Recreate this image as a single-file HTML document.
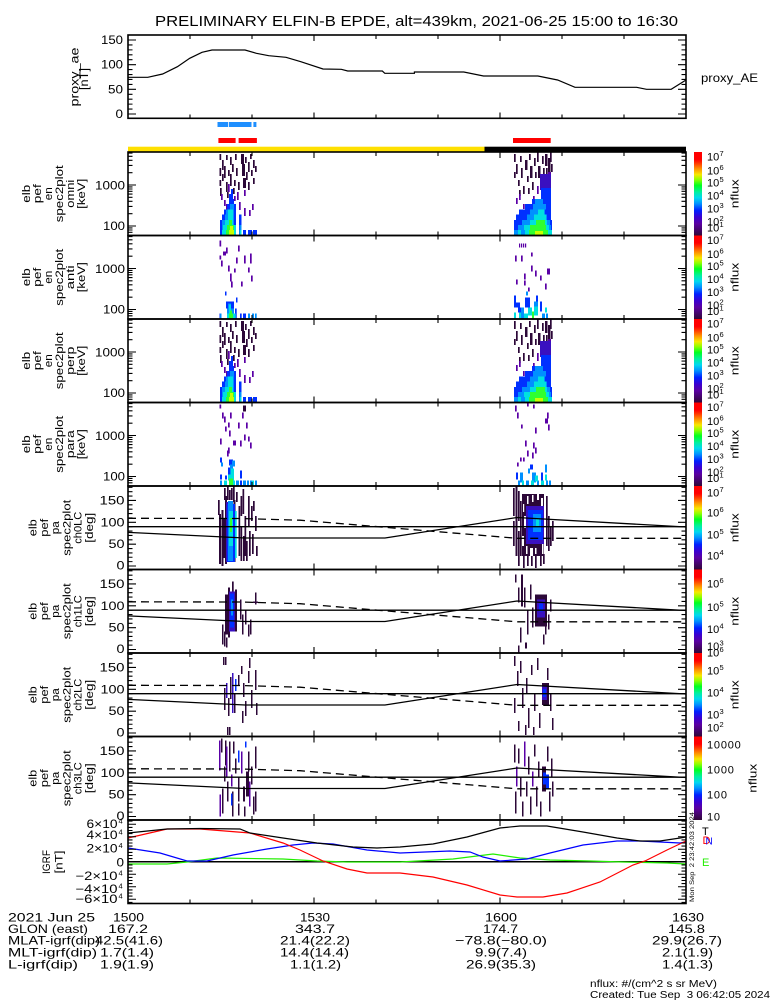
<!DOCTYPE html>
<html><head><meta charset="utf-8"><title>ELFIN-B EPDE</title>
<style>
html,body{margin:0;padding:0;background:#fff;width:775px;height:1000px;overflow:hidden}
svg{display:block}
text{font-family:"Liberation Sans",Arial,sans-serif;fill:#000}
</style></head><body>
<svg width="775" height="1000" viewBox="0 0 775 1000" xmlns="http://www.w3.org/2000/svg">
<defs>
<linearGradient id="cb" x1="0" y1="0" x2="0" y2="1">
<stop offset="0" stop-color="#ff0000"/><stop offset="0.09" stop-color="#ff0000"/><stop offset="0.13" stop-color="#ff3000"/><stop offset="0.2" stop-color="#ff9000"/><stop offset="0.27" stop-color="#f8e800"/><stop offset="0.33" stop-color="#90ff00"/><stop offset="0.4" stop-color="#00ff20"/><stop offset="0.48" stop-color="#00f0a0"/><stop offset="0.55" stop-color="#00d8f0"/><stop offset="0.62" stop-color="#0090ff"/><stop offset="0.7" stop-color="#0020ff"/><stop offset="0.78" stop-color="#3a00d0"/><stop offset="0.86" stop-color="#5a00a0"/><stop offset="1" stop-color="#300838"/>
</linearGradient>
<path id="xt" fill="none" stroke="#000" stroke-width="1.1" d="M190,0v4M252,0v4M314,0v6M376,0v4M438,0v4M500,0v6M562,0v4M624,0v4M190,83.5v-4M252,83.5v-4M314,83.5v-6M376,83.5v-4M438,83.5v-4M500,83.5v-6M562,83.5v-4M624,83.5v-4"/>
<path id="et" fill="none" stroke="#000" stroke-width="1.1" d="M128,74h8M128,33h8M128,80.3h4.5M128,78h4.5M128,75.9h4.5M128,61.7h4.5M128,54.4h4.5M128,49.3h4.5M128,45.3h4.5M128,42.1h4.5M128,39.3h4.5M128,37h4.5M128,34.9h4.5M128,20.7h4.5M128,13.4h4.5M128,8.3h4.5M128,4.3h4.5M128,1.1h4.5M686,74h-8M686,33h-8M686,80.3h-4.5M686,78h-4.5M686,75.9h-4.5M686,61.7h-4.5M686,54.4h-4.5M686,49.3h-4.5M686,45.3h-4.5M686,42.1h-4.5M686,39.3h-4.5M686,37h-4.5M686,34.9h-4.5M686,20.7h-4.5M686,13.4h-4.5M686,8.3h-4.5M686,4.3h-4.5M686,1.1h-4.5"/>
<path id="pt" fill="none" stroke="#000" stroke-width="1.1" d="M128,80h8M128,58.15h8M128,36.3h8M128,14.45h8M128,75.63h4.5M128,71.26h4.5M128,66.89h4.5M128,62.52h4.5M128,53.78h4.5M128,49.41h4.5M128,45.04h4.5M128,40.67h4.5M128,31.93h4.5M128,27.56h4.5M128,23.19h4.5M128,18.82h4.5M128,10.08h4.5M128,5.71h4.5M128,1.34h4.5M686,80h-8M686,58.15h-8M686,36.3h-8M686,14.45h-8M686,75.63h-4.5M686,71.26h-4.5M686,66.89h-4.5M686,62.52h-4.5M686,53.78h-4.5M686,49.41h-4.5M686,45.04h-4.5M686,40.67h-4.5M686,31.93h-4.5M686,27.56h-4.5M686,23.19h-4.5M686,18.82h-4.5M686,10.08h-4.5M686,5.71h-4.5M686,1.34h-4.5"/>
<g id="lc" fill="none" stroke="#000" stroke-width="1.3">
<path d="M128,40.67H686"/>
<path d="M128,46.35L245,52.03L385,52.03L517,31.5L686,41"/>
<path d="M128,32.3L240,32.5L300,34.2L517,52.3L686,52.3" stroke-dasharray="8,5"/>
</g>
<g id="d1">
<path fill="#2c0838" d="M219.5,2h1.7v6h-1.7zM219.5,16h1.7v8h-1.7zM219.5,28h1.7v6h-1.7zM222,8h1.7v10h-1.7zM222,22h1.7v7h-1.7zM224,14h1.7v12h-1.7zM226,3h1.7v5h-1.7zM226,30h1.7v10h-1.7zM228,18h1.7v6h-1.7zM230,5h1.7v8h-1.7zM230,22h1.7v12h-1.7zM232,12h1.7v8h-1.7zM234,28h1.7v6h-1.7zM235,2h1.7v6h-1.7zM236,16h1.7v8h-1.7zM241,2h3v10h-3zM242,12h3v12h-3zM243,26h3v10h-3zM245,5h1.7v6h-1.7zM246,20h1.7v8h-1.7zM248,10h1.7v10h-1.7zM248,30h1.7v8h-1.7zM250,2h1.7v5h-1.7zM251,18h1.7v6h-1.7zM253,8h1.7v8h-1.7zM253,26h1.7v6h-1.7zM255,14h1.7v6h-1.7zM220,36h1.7v8h-1.7zM227,40h1.7v6h-1.7zM238,30h1.7v8h-1.7zM233,36h1.7v6h-1.7zM514,2h1.7v8h-1.7zM514,20h1.7v6h-1.7zM516,12h1.7v10h-1.7zM518,28h1.7v6h-1.7zM520,4h1.7v6h-1.7zM521,16h1.7v10h-1.7zM523,34h1.7v8h-1.7zM525,8h2.5v10h-2.5zM527,24h1.7v6h-1.7zM529,2h1.7v6h-1.7zM530,14h2.5v12h-2.5zM532,30h1.7v8h-1.7zM534,6h1.7v8h-1.7zM535,20h1.7v6h-1.7zM537,0h1.7v10h-1.7zM538,14h2.5v12h-2.5zM540,28h1.7v6h-1.7zM542,4h1.7v8h-1.7zM543,16h1.7v6h-1.7zM545,2h2.5v12h-2.5zM546,16h1.7v8h-1.7zM548,6h2.5v14h-2.5zM550,0h1.7v10h-1.7zM551,12h1.7v8h-1.7zM519,38h1.7v6h-1.7zM528,36h1.7v6h-1.7z"/>
<path fill="#5a00a6" d="M221,42h1.7v6h-1.7zM224,48h1.7v6h-1.7zM228,32h1.7v8h-1.7zM237,40h1.7v8h-1.7zM239,50h1.7v8h-1.7zM244,38h1.7v6h-1.7zM244,56h1.7v8h-1.7zM249,58h1.7v6h-1.7zM252,52h1.7v6h-1.7zM226,52h1.7v6h-1.7zM234,44h1.7v5h-1.7zM516,46h1.7v6h-1.7zM519,42h1.7v6h-1.7zM523,52h1.7v5h-1.7zM533,44h1.7v5h-1.7zM537,34h1.7v8h-1.7zM548,20h3v14h-3zM545,26h2v10h-2z"/>
<path fill="#3a10c0" d="M540,22h11v16h-11z"/>
<path fill="#0030ff" d="M229,47h5v5h-5zM227,52h9v5.5h-9zM224,57.5h12v5h-12zM222,62.5h14v5.5h-14zM220,68h16v5h-16zM220,73h16v5h-16zM220,78h2v5h-2zM239,62.5h2.5v21h-2.5zM243,78h3v5h-3zM248,78h4v5h-4zM253,78h4v5h-4zM229,42h4v5h-4zM231,37h2v5h-2zM541,36h10v12h-10zM532,47h19v5.5h-19zM525,52h26v5.5h-26zM519,57.5h32v5h-32zM516,62.5h35v5.5h-35zM514,68h38v5h-38zM514,73h38v5h-38zM514,78h38v5h-38z"/>
<path fill="#0090ff" d="M230,52h4v5.5h-4zM226,57.5h8v5h-8zM225,62.5h9v5.5h-9zM222,68h12v5h-12zM222,73h3v5h-3zM239.5,73h2v10h-2zM535,47h8v5.5h-8zM533,52h13v5.5h-13zM530,57.5h15v5h-15zM527,62.5h20v5.5h-20zM522,68h28v5h-28zM518,73h33v5h-33zM514,78h5v5h-5zM521,78h4v5h-4z"/>
<path fill="#00e0e0" d="M228,57.5h5v5h-5zM228,62.5h5v5.5h-5zM225,68h8v5h-8zM223,73h13v5h-13zM222,78h4v5h-4zM234,78h2v5h-2zM239.5,78h2v5h-2zM538,57.5h6v5h-6zM534,62.5h12v5.5h-12zM530,68h17v5h-17zM524,73h25v5h-25zM518,78h3v5h-3zM525,78h4v5h-4zM548,78h4v5h-4z"/>
<path fill="#30ff30" d="M229,68h3v5h-3zM227,73h7v5h-7zM226,78h3v5h-3zM536,68h9v5h-9zM530,73h16v5h-16zM529,78h19v5h-19z"/>
<path fill="#c8ff00" d="M229,78h5v5h-5zM230,74h3v4h-3zM535,79h8v4h-8z"/>
</g>
</defs>
<rect width="775" height="1000" fill="#fff"/>

<text x="155" y="26" font-size="14.5" textLength="523" lengthAdjust="spacingAndGlyphs">PRELIMINARY ELFIN-B EPDE, alt=439km, 2021-06-25 15:00 to 16:30</text>

<path fill="none" stroke="#000" stroke-width="1.2" d="M128,77.3L147.8,77.3L162.6,74L177.4,66.7L189.7,58.3L202,52.3L212,50L245,50L256.4,53.3L268.7,55.7L286,57.3L300.8,61.7L323,69L341.3,69.3L347.7,71L382.3,71L384.8,73.3L414.4,73.3L414.4,72L463.8,72L483.5,76L537.9,76L557.6,80L575,87.3L636.6,87.3L646.5,89.3L671.2,89.3L686,80"/>
<rect x="128" y="35" width="558" height="83.3" fill="none" stroke="#000" stroke-width="1.6"/>
<path fill="none" stroke="#000" stroke-width="1.1" d="M128,114h8M128,89.33h8M128,64.67h8M128,40h8M128,109.07h4.5M128,104.13h4.5M128,99.2h4.5M128,94.27h4.5M128,84.4h4.5M128,79.47h4.5M128,74.53h4.5M128,69.6h4.5M128,59.73h4.5M128,54.8h4.5M128,49.87h4.5M128,44.93h4.5M686,114h-8M686,89.33h-8M686,64.67h-8M686,40h-8M686,109.07h-4.5M686,104.13h-4.5M686,99.2h-4.5M686,94.27h-4.5M686,84.4h-4.5M686,79.47h-4.5M686,74.53h-4.5M686,69.6h-4.5M686,59.73h-4.5M686,54.8h-4.5M686,49.87h-4.5M686,44.93h-4.5"/>
<use href="#xt" y="35"/>
<g font-size="12" text-anchor="end">
<text x="123" y="44" textLength="22" lengthAdjust="spacingAndGlyphs">150</text>
<text x="123" y="68.7" textLength="22" lengthAdjust="spacingAndGlyphs">100</text>
<text x="123" y="93.3" textLength="15" lengthAdjust="spacingAndGlyphs">50</text>
<text x="123" y="118" textLength="7.5" lengthAdjust="spacingAndGlyphs">0</text>
</g>
<g font-size="11.5" text-anchor="middle">
<text transform="translate(78.5,77) rotate(-90)" textLength="59" lengthAdjust="spacingAndGlyphs">proxy_ae</text>
<text transform="translate(88,79) rotate(-90)" textLength="22" lengthAdjust="spacingAndGlyphs">[nT]</text>
</g>
<text x="701" y="82" font-size="12" textLength="57" lengthAdjust="spacingAndGlyphs">proxy_AE</text>

<g fill="#1f8fff"><rect x="217.5" y="122" width="10.5" height="5"/><rect x="228.8" y="122" width="22.7" height="5"/><rect x="253.4" y="122" width="3" height="5"/></g>
<g fill="#ff0000"><rect x="218.4" y="138" width="17.2" height="5"/><rect x="238.6" y="138" width="18.3" height="5"/><rect x="513" y="138" width="37.7" height="5"/></g>
<rect x="128" y="146.7" width="356.5" height="5.6" fill="#ffe000"/>
<rect x="484.5" y="146.7" width="201.5" height="5.6" fill="#000"/>

<use href="#d1" y="152"/>
<g transform="translate(0,235.5)">
<path fill="#5a00a6" d="M219.5,5h1.7v6h-1.7zM219.5,20h1.7v4h-1.7zM221,25h1.7v6h-1.7zM226,12h1.7v6h-1.7zM228,30h1.7v6h-1.7zM230,38h1.7v8h-1.7zM231,46h1.7v6h-1.7zM234,33h1.7v4h-1.7zM236,22h1.7v6h-1.7zM238,10h1.7v6h-1.7zM241,46h1.7v5h-1.7zM244,20h1.7v8h-1.7zM250,18h1.7v10h-1.7zM251,40h1.7v6h-1.7zM223,16h3v4h-3zM248,32h1.7v5h-1.7zM519,8h1.2v4h-1.2zM521,8h1.2v4h-1.2zM523,8h1.2v4h-1.2zM525,8h1.2v4h-1.2zM515,20h1.7v6h-1.7zM521,20h1.7v6h-1.7zM531,17h1.7v4h-1.7zM531,30h1.7v6h-1.7zM535,35h1.7v6h-1.7zM547,33h3v6h-3zM524,38h1.7v6h-1.7zM516,44h1.7v5h-1.7zM540,40h1.7v5h-1.7zM545,48h1.7v6h-1.7zM524,45h1.7v5h-1.7zM528,52h1.7v4h-1.7z"/>
<path fill="#0030ff" d="M225,56h1.5v4h-1.5zM236,62h1.5v5h-1.5zM226,66h8v7h-8zM232,69h2v4h-2zM235,73h1.7v10h-1.7zM240,78h1.7v5h-1.7zM243,78h3v5h-3zM219.5,78h1.5v5h-1.5zM514,60h2v7h-2zM514,67h6v5h-6zM518,72h4v5h-4zM525,62h5v10h-5zM536,60h2v6h-2zM540,66h2v10h-2z"/>
<path fill="#0090ff" d="M227,73h7v5h-7zM228,68h3v5h-3zM248,78h2v5h-2zM252,78h2v5h-2zM255,78h1.7v5h-1.7zM220,78h1.5v5h-1.5zM526,56h2v4h-2zM521,72h3v11h-3zM542,78h3v5h-3zM546,78h2v5h-2zM534,66h4v5h-4z"/>
<path fill="#00e0e0" d="M229,69h2v9h-2zM227,78h7v5h-7zM234,78h1.7v5h-1.7zM514,77h2v6h-2zM519,77h2v6h-2zM528,72h4v8h-4zM534,71h4v9h-4zM545,72h2v5h-2zM524,78h4v5h-4z"/>
<path fill="#30ff30" d="M229,78h4v5h-4zM230,75h2v3h-2zM532,76h2v7h-2z"/>
</g>
<use href="#d1" y="319"/>
<g transform="translate(0,402.5)">
<path fill="#2c0838" d="M243,3h3v6h-3z"/>
<path fill="#5a00a6" d="M219.5,2h1.7v4h-1.7zM222,10h1.7v6h-1.7zM224,14h1.7v6h-1.7zM225,24h1.7v5h-1.7zM228,20h1.7v5h-1.7zM229,28h1.7v6h-1.7zM230,10h1.7v6h-1.7zM238,20h1.7v6h-1.7zM242,10h1.7v6h-1.7zM246,20h1.7v6h-1.7zM244,32h1.7v6h-1.7zM220,36h1.7v6h-1.7zM228,45h1.7v6h-1.7zM233,38h3v5h-3zM240,38h1.7v6h-1.7zM248,34h1.7v5h-1.7zM250,40h1.7v6h-1.7zM227,48h1.7v6h-1.7zM515,3h1.7v6h-1.7zM517,10h1.7v6h-1.7zM527,0h1.7v4h-1.7zM533,2h1.7v4h-1.7zM547,10h1.7v6h-1.7zM535,25h1.7v6h-1.7zM521,22h1.7v4h-1.7zM548,22h1.7v6h-1.7zM535,45h1.7v6h-1.7zM532,50h1.7v6h-1.7zM525,38h1.7v6h-1.7zM523,55h1.7v4h-1.7zM527,48h1.7v6h-1.7zM533,40h1.7v6h-1.7zM517,60h1.7v4h-1.7zM520,55h1.7v4h-1.7zM545,16h3v5h-3z"/>
<path fill="#0030ff" d="M220,55h2v5h-2zM229,57h4v6h-4zM228,65h2v8h-2zM220,72h2v5h-2zM225,73h2v4h-2zM240,68h2v8h-2zM240,78h2v5h-2zM530,62h3v5h-3zM516,70h2v7h-2zM541,70h2v8h-2z"/>
<path fill="#0090ff" d="M221,60h2v4h-2zM230,62h3v10h-3zM232,58h3v6h-3zM220,78h2v5h-2zM236,78h3v5h-3zM243,78h3v5h-3zM247,78h2v5h-2zM250,78h2v5h-2zM255,78h2v5h-2zM528,66h2v5h-2zM545,62h2v8h-2zM520,70h3v10h-3zM532,70h4v10h-4zM518,78h2v5h-2zM526,78h3v5h-3zM537,78h2v5h-2zM546,78h2v5h-2zM549,78h2v5h-2z"/>
<path fill="#00e0e0" d="M231,66h3v12h-3zM228,72h6v6h-6zM224,78h3v5h-3zM252,78h2v5h-2zM233,78h2v5h-2zM535,73h3v6h-3zM545,72h2v6h-2zM522,78h2v5h-2zM531,78h3v5h-3zM541,78h3v5h-3z"/>
<path fill="#30ff30" d="M229,76h4v7h-4z"/>
</g>

<g transform="translate(0,486)">
<path fill="#2c0838" d="M218,14h1.7v15h-1.7zM219,28h2v50h-2zM221.5,24h2v56h-2zM223.5,32h2v40h-2zM224,2h1.7v12h-1.7zM227,0h1.7v14h-1.7zM229,4h1.7v10h-1.7zM231,2h1.7v12h-1.7zM233,0h1.7v16h-1.7zM236,6h1.7v10h-1.7zM238.5,20h1.7v50h-1.7zM240.5,10h1.7v20h-1.7zM240.5,40h1.7v35h-1.7zM242.5,3h1.7v25h-1.7zM243,50h1.7v25h-1.7zM244.5,30h1.7v40h-1.7zM246,55h1.7v20h-1.7zM248,10h1.7v30h-1.7zM249,45h1.7v25h-1.7zM251,20h1.7v15h-1.7zM252,48h1.7v20h-1.7zM253,15h1.7v10h-1.7zM255,30h1.7v15h-1.7zM256,60h1.7v10h-1.7zM225,10h2v68h-2zM233.5,14h2v62h-2zM522,8h22v62h-22zM513,2h1.7v28h-1.7zM513,35h1.7v25h-1.7zM515.5,0h2v70h-2zM518,5h1.7v30h-1.7zM518,45h1.7v35h-1.7zM520,15h1.7v55h-1.7zM523,70h1.7v12h-1.7zM527,65h1.7v15h-1.7zM531,70h1.7v10h-1.7zM535,68h1.7v14h-1.7zM540,62h1.7v18h-1.7zM543,68h1.7v10h-1.7zM546,10h1.7v50h-1.7zM548,30h1.7v35h-1.7zM550,40h1.7v20h-1.7zM552,35h1.7v20h-1.7z"/>
<path fill="#fff" d="M524,30h2v12h-2zM522,50h2v10h-2zM541,12h2v10h-2zM530,62h3v8h-3zM527,10h1.5v8h-1.5zM537,8h2v6h-2zM532,9h1.5v7h-1.5zM526,60h1.5v8h-1.5zM542,58h1.5v10h-1.5zM523,18h1.2v8h-1.2zM535,62h1.5v6h-1.5z"/>
<path fill="#3a10c0" d="M226,16h2v60h-2zM526,20h18v38h-18z"/>
<path fill="#0030ff" d="M227,18h8v58h-8zM528,24h15v30h-15z"/>
<path fill="#0090ff" d="M228,15h5v60h-5zM533,28h8v18h-8z"/>
<path fill="#00e0e0" d="M229,25h4v35h-4zM235,25h1.7v47h-1.7zM536,32h3v8h-3z"/>
<path fill="#30ff30" d="M230,32h2v14h-2z"/>
</g>
<g transform="translate(0,569.5)">
<path fill="#2c0838" d="M225,25h3v40h-3zM228,18h2v50h-2zM235,20h2v42h-2zM232,12h1.7v12h-1.7zM222,55h1.5v20h-1.5zM224,62h1.5v15h-1.5zM240,30h1.5v20h-1.5zM242,45h1.5v20h-1.5zM245,40h1.5v15h-1.5zM248,55h1.5v12h-1.5zM250,50h1.5v15h-1.5zM255,23h1.5v12h-1.5zM253,32h5v1.5h-5zM226,68h1.5v10h-1.5zM515,5h1.5v8h-1.5zM518,18h1.5v15h-1.5zM521,5h2v32h-2zM524,18h1.5v20h-1.5zM527,40h1.5v25h-1.5zM530,15h1.5v15h-1.5zM535,25h12v32h-12zM545,40h1.5v25h-1.5zM548,45h1.5v15h-1.5zM543,65h1.5v10h-1.5zM520,58h1.5v15h-1.5zM525,73h2v6h-2zM518,76h1.5v8h-1.5zM532,38h1.5v20h-1.5zM550,30h1.5v12h-1.5z"/>
<path fill="#3a10c0" d="M229,22h6v40h-6zM537,30h8v18h-8z"/>
<path fill="#0030ff" d="M230,24h4v34h-4zM539,34h4v8h-4z"/>
<path fill="#0090ff" d="M231,30h2v16h-2z"/>
</g>
<g transform="translate(0,653)">
<path fill="#2c0838" d="M223,4h1.5v8h-1.5zM225,4h1.5v8h-1.5zM224,35h1.5v22h-1.5zM230,24h1.5v22h-1.5zM234,40h1.5v20h-1.5zM227,74h1.5v8h-1.5zM229,74h1.5v8h-1.5zM241,13h1.5v8h-1.5zM242,58h1.5v12h-1.5zM243,30h1.5v14h-1.5zM245,48h1.5v15h-1.5zM248,18h1.5v12h-1.5zM249,5h1.5v10h-1.5zM251,37h1.5v18h-1.5zM255,17h1.5v20h-1.5zM256,50h1.5v12h-1.5zM228,45h1.5v18h-1.5zM238,22h1.5v10h-1.5zM514,3h1.5v10h-1.5zM517,18h1.5v15h-1.5zM520,8h1.5v12h-1.5zM522,35h1.5v20h-1.5zM514,45h1.5v15h-1.5zM526,25h1.5v15h-1.5zM528,55h1.5v20h-1.5zM531,12h1.5v10h-1.5zM534,40h1.5v18h-1.5zM537,5h1.5v12h-1.5zM539,60h1.5v15h-1.5zM542,30h7v22h-7zM547,15h1.5v12h-1.5zM550,40h1.5v18h-1.5zM552,65h1.5v12h-1.5zM518,68h1.5v10h-1.5zM525,72h1.5v10h-1.5zM533,74h1.5v8h-1.5z"/>
<path fill="#3a10c0" d="M232,20h1.5v40h-1.5zM226,30h1.5v15h-1.5zM542,33h5v14h-5z"/>
<path fill="#0030ff" d="M235,26h1.5v12h-1.5zM543,36h3v8h-3z"/>
</g>
<g transform="translate(0,736.5)">
<path fill="#2c0838" d="M221,2h1.5v14h-1.5zM222,52h1.5v25h-1.5zM224,30h1.5v15h-1.5zM225,4h1.5v25h-1.5zM227,45h1.5v20h-1.5zM229,5h1.5v30h-1.5zM232,55h1.5v25h-1.5zM235,22h1.5v15h-1.5zM238,40h1.5v25h-1.5zM238,67h1.5v12h-1.5zM243,50h2v15h-2zM244,70h1.5v10h-1.5zM246,35h3v25h-3zM248,15h1.5v20h-1.5zM251,30h1.5v18h-1.5zM253,60h1.5v18h-1.5zM255,10h1.5v22h-1.5zM255,55h1.5v20h-1.5zM233,5h1.5v12h-1.5zM514,8h1.5v18h-1.5zM515,55h1.5v22h-1.5zM518,12h1.5v15h-1.5zM520,40h1.5v20h-1.5zM522,65h1.5v15h-1.5zM526,45h1.5v15h-1.5zM528,20h1.5v18h-1.5zM530,60h1.5v18h-1.5zM534,8h1.5v12h-1.5zM536,50h1.5v20h-1.5zM538,25h1.5v15h-1.5zM540,65h1.5v15h-1.5zM542,30h4v25h-4zM547,10h1.5v15h-1.5zM549,55h1.5v20h-1.5zM551,22h1.5v18h-1.5zM552,45h1.5v15h-1.5z"/>
<path fill="#5a00a6" d="M219,4h1.5v30h-1.5zM219.5,58h1.5v22h-1.5zM231,38h1.5v12h-1.5zM241,15h1.5v22h-1.5zM249,45h1.5v25h-1.5zM226,10h1.5v30h-1.5zM516,30h1.5v20h-1.5zM524,5h1.5v25h-1.5zM532,35h1.5v15h-1.5z"/>
<path fill="#0030ff" d="M231,57h1.5v12h-1.5zM245,5h1.5v6h-1.5zM238,14h1.5v12h-1.5zM543,36h3v12h-3zM546,38h3v14h-3z"/>
</g>
<use href="#lc" y="486"/><use href="#lc" y="569.5"/><use href="#lc" y="653"/><use href="#lc" y="736.5"/>

<path fill="none" stroke="#000" stroke-width="1.4" d="M128,861.75H686"/>
<path fill="none" stroke="#22ee00" stroke-width="1.2" d="M128,864L167,864L187,862L217,858L283,859L317,861L347,862L400,862L453,859L493,854L520,858L550,860L590,861L623,862L667,863L686,864"/>
<path fill="none" stroke="#0000ff" stroke-width="1.2" d="M128,848L160,853L187,861L207,861L233,855L267,849L293,845L313,843L333,844L367,850L400,853L450,851L470,852L483,857L500,861L527,859L550,853L583,845L617,841L640,841L660,842L680,843L686,842"/>
<path fill="none" stroke="#ff0000" stroke-width="1.2" d="M128,838L167,829L200,829L250,833L283,843L300,850L323,861L347,869L367,873L400,873L433,877L467,885L500,895L517,897L543,897L567,893L600,882L633,865L645,861L667,850L686,841"/>
<path fill="none" stroke="#000" stroke-width="1.2" d="M128,833L167,829L200,828.5L240,829L250,833L283,838L317,843L353,847L377,848L400,847L433,844L467,837L500,828L520,826L547,826L583,832L617,838L640,841L660,841L680,838L686,837"/>

<g fill="none" stroke="#000" stroke-width="1.6">
<rect x="128" y="152" width="558" height="83.5"/><rect x="128" y="235.5" width="558" height="83.5"/><rect x="128" y="319" width="558" height="83.5"/><rect x="128" y="402.5" width="558" height="83.5"/><rect x="128" y="486" width="558" height="83.5"/><rect x="128" y="569.5" width="558" height="83.5"/><rect x="128" y="653" width="558" height="83.5"/><rect x="128" y="736.5" width="558" height="83.5"/><rect x="128" y="820" width="558" height="83.5"/>
</g>
<use href="#et" y="152"/><use href="#et" y="235.5"/><use href="#et" y="319"/><use href="#et" y="402.5"/>
<use href="#pt" y="486"/><use href="#pt" y="569.5"/><use href="#pt" y="653"/><use href="#pt" y="736.5"/>
<use href="#xt" y="152"/><use href="#xt" y="235.5"/><use href="#xt" y="319"/><use href="#xt" y="402.5"/><use href="#xt" y="486"/><use href="#xt" y="569.5"/><use href="#xt" y="653"/><use href="#xt" y="736.5"/><use href="#xt" y="820"/>
<path fill="none" stroke="#000" stroke-width="1.1" d="M128,824.25h8M128,836.75h8M128,849.25h8M128,861.75h8M128,874.25h8M128,886.75h8M128,899.25h8M128,821.1h4.5M128,827.4h4.5M128,830.5h4.5M128,833.6h4.5M128,839.9h4.5M128,843h4.5M128,846.1h4.5M128,852.4h4.5M128,855.5h4.5M128,858.6h4.5M128,864.9h4.5M128,868h4.5M128,871.1h4.5M128,877.4h4.5M128,880.5h4.5M128,883.6h4.5M128,889.9h4.5M128,893h4.5M128,896.1h4.5M128,902.4h4.5M686,824.25h-8M686,836.75h-8M686,849.25h-8M686,861.75h-8M686,874.25h-8M686,886.75h-8M686,899.25h-8M686,821.1h-4.5M686,827.4h-4.5M686,830.5h-4.5M686,833.6h-4.5M686,839.9h-4.5M686,843h-4.5M686,846.1h-4.5M686,852.4h-4.5M686,855.5h-4.5M686,858.6h-4.5M686,864.9h-4.5M686,868h-4.5M686,871.1h-4.5M686,877.4h-4.5M686,880.5h-4.5M686,883.6h-4.5M686,889.9h-4.5M686,893h-4.5M686,896.1h-4.5M686,902.4h-4.5"/>

<g font-size="11.5" text-anchor="end">
<text x="125" y="189.5" textLength="30" lengthAdjust="spacingAndGlyphs">1000</text><text x="125" y="230" textLength="22" lengthAdjust="spacingAndGlyphs">100</text>
<text x="125" y="273" textLength="30" lengthAdjust="spacingAndGlyphs">1000</text><text x="125" y="313.5" textLength="22" lengthAdjust="spacingAndGlyphs">100</text>
<text x="125" y="356.5" textLength="30" lengthAdjust="spacingAndGlyphs">1000</text><text x="125" y="397" textLength="22" lengthAdjust="spacingAndGlyphs">100</text>
<text x="125" y="440" textLength="30" lengthAdjust="spacingAndGlyphs">1000</text><text x="125" y="480.5" textLength="22" lengthAdjust="spacingAndGlyphs">100</text>
<text x="124.5" y="504.5" textLength="25" lengthAdjust="spacingAndGlyphs">150</text><text x="124.5" y="526.5" textLength="24" lengthAdjust="spacingAndGlyphs">100</text><text x="124.5" y="548" textLength="16" lengthAdjust="spacingAndGlyphs">50</text><text x="124.5" y="569.5" textLength="8" lengthAdjust="spacingAndGlyphs">0</text>
<text x="124.5" y="588" textLength="25" lengthAdjust="spacingAndGlyphs">150</text><text x="124.5" y="610" textLength="24" lengthAdjust="spacingAndGlyphs">100</text><text x="124.5" y="631.5" textLength="16" lengthAdjust="spacingAndGlyphs">50</text><text x="124.5" y="653" textLength="8" lengthAdjust="spacingAndGlyphs">0</text>
<text x="124.5" y="671.5" textLength="25" lengthAdjust="spacingAndGlyphs">150</text><text x="124.5" y="693.5" textLength="24" lengthAdjust="spacingAndGlyphs">100</text><text x="124.5" y="715" textLength="16" lengthAdjust="spacingAndGlyphs">50</text><text x="124.5" y="736.5" textLength="8" lengthAdjust="spacingAndGlyphs">0</text>
<text x="124.5" y="755" textLength="25" lengthAdjust="spacingAndGlyphs">150</text><text x="124.5" y="777" textLength="24" lengthAdjust="spacingAndGlyphs">100</text><text x="124.5" y="798.5" textLength="16" lengthAdjust="spacingAndGlyphs">50</text><text x="124.5" y="820" textLength="8" lengthAdjust="spacingAndGlyphs">0</text>
<text x="117.5" y="828" textLength="31" lengthAdjust="spacingAndGlyphs">6×10</text>
<text x="117.5" y="839" textLength="31" lengthAdjust="spacingAndGlyphs">4×10</text>
<text x="117.5" y="852.5" textLength="31" lengthAdjust="spacingAndGlyphs">2×10</text>
<text x="124" y="866.5" textLength="7.5" lengthAdjust="spacingAndGlyphs">0</text>
<text x="117.5" y="880" textLength="42" lengthAdjust="spacingAndGlyphs">−2×10</text>
<text x="117.5" y="893" textLength="42" lengthAdjust="spacingAndGlyphs">−4×10</text>
<text x="117.5" y="903" textLength="42" lengthAdjust="spacingAndGlyphs">−6×10</text>
</g>
<g font-size="7.5">
<text x="118.5" y="823.5">4</text><text x="118.5" y="834.5">4</text><text x="118.5" y="848">4</text><text x="118.5" y="875.5">4</text><text x="118.5" y="888.5">4</text><text x="118.5" y="898.5">4</text>
</g>

<g font-size="11" text-anchor="middle">
<g transform="translate(0,193.75)"><text transform="translate(30,0) rotate(-90)" textLength="18" lengthAdjust="spacingAndGlyphs">elb</text><text transform="translate(41,0) rotate(-90)" textLength="19" lengthAdjust="spacingAndGlyphs">pef</text><text transform="translate(52,0) rotate(-90)" textLength="13" lengthAdjust="spacingAndGlyphs">en</text><text transform="translate(63,0) rotate(-90)" textLength="57" lengthAdjust="spacingAndGlyphs">spec2plot</text><text transform="translate(74,0) rotate(-90)" textLength="28" lengthAdjust="spacingAndGlyphs">omni</text><text transform="translate(85,0) rotate(-90)" textLength="30" lengthAdjust="spacingAndGlyphs">[keV]</text></g>
<g transform="translate(0,277.25)"><text transform="translate(30,0) rotate(-90)" textLength="18" lengthAdjust="spacingAndGlyphs">elb</text><text transform="translate(41,0) rotate(-90)" textLength="19" lengthAdjust="spacingAndGlyphs">pef</text><text transform="translate(52,0) rotate(-90)" textLength="13" lengthAdjust="spacingAndGlyphs">en</text><text transform="translate(63,0) rotate(-90)" textLength="57" lengthAdjust="spacingAndGlyphs">spec2plot</text><text transform="translate(74,0) rotate(-90)" textLength="24" lengthAdjust="spacingAndGlyphs">anti</text><text transform="translate(85,0) rotate(-90)" textLength="30" lengthAdjust="spacingAndGlyphs">[keV]</text></g>
<g transform="translate(0,360.75)"><text transform="translate(30,0) rotate(-90)" textLength="18" lengthAdjust="spacingAndGlyphs">elb</text><text transform="translate(41,0) rotate(-90)" textLength="19" lengthAdjust="spacingAndGlyphs">pef</text><text transform="translate(52,0) rotate(-90)" textLength="13" lengthAdjust="spacingAndGlyphs">en</text><text transform="translate(63,0) rotate(-90)" textLength="57" lengthAdjust="spacingAndGlyphs">spec2plot</text><text transform="translate(74,0) rotate(-90)" textLength="28" lengthAdjust="spacingAndGlyphs">perp</text><text transform="translate(85,0) rotate(-90)" textLength="30" lengthAdjust="spacingAndGlyphs">[keV]</text></g>
<g transform="translate(0,444.25)"><text transform="translate(30,0) rotate(-90)" textLength="18" lengthAdjust="spacingAndGlyphs">elb</text><text transform="translate(41,0) rotate(-90)" textLength="19" lengthAdjust="spacingAndGlyphs">pef</text><text transform="translate(52,0) rotate(-90)" textLength="13" lengthAdjust="spacingAndGlyphs">en</text><text transform="translate(63,0) rotate(-90)" textLength="57" lengthAdjust="spacingAndGlyphs">spec2plot</text><text transform="translate(74,0) rotate(-90)" textLength="28" lengthAdjust="spacingAndGlyphs">para</text><text transform="translate(85,0) rotate(-90)" textLength="30" lengthAdjust="spacingAndGlyphs">[keV]</text></g>
<g transform="translate(0,527.75)"><text transform="translate(36.5,0) rotate(-90)" textLength="17" lengthAdjust="spacingAndGlyphs">elb</text><text transform="translate(47.8,0) rotate(-90)" textLength="18" lengthAdjust="spacingAndGlyphs">pef</text><text transform="translate(59.1,0) rotate(-90)" textLength="13" lengthAdjust="spacingAndGlyphs">pa</text><text transform="translate(70.4,0) rotate(-90)" textLength="56" lengthAdjust="spacingAndGlyphs">spec2plot</text><text transform="translate(81.7,0) rotate(-90)" textLength="32" lengthAdjust="spacingAndGlyphs">ch0LC</text><text transform="translate(93,0) rotate(-90)" textLength="30" lengthAdjust="spacingAndGlyphs">[deg]</text></g>
<g transform="translate(0,611.25)"><text transform="translate(36.5,0) rotate(-90)" textLength="17" lengthAdjust="spacingAndGlyphs">elb</text><text transform="translate(47.8,0) rotate(-90)" textLength="18" lengthAdjust="spacingAndGlyphs">pef</text><text transform="translate(59.1,0) rotate(-90)" textLength="13" lengthAdjust="spacingAndGlyphs">pa</text><text transform="translate(70.4,0) rotate(-90)" textLength="56" lengthAdjust="spacingAndGlyphs">spec2plot</text><text transform="translate(81.7,0) rotate(-90)" textLength="32" lengthAdjust="spacingAndGlyphs">ch1LC</text><text transform="translate(93,0) rotate(-90)" textLength="30" lengthAdjust="spacingAndGlyphs">[deg]</text></g>
<g transform="translate(0,694.75)"><text transform="translate(36.5,0) rotate(-90)" textLength="17" lengthAdjust="spacingAndGlyphs">elb</text><text transform="translate(47.8,0) rotate(-90)" textLength="18" lengthAdjust="spacingAndGlyphs">pef</text><text transform="translate(59.1,0) rotate(-90)" textLength="13" lengthAdjust="spacingAndGlyphs">pa</text><text transform="translate(70.4,0) rotate(-90)" textLength="56" lengthAdjust="spacingAndGlyphs">spec2plot</text><text transform="translate(81.7,0) rotate(-90)" textLength="32" lengthAdjust="spacingAndGlyphs">ch2LC</text><text transform="translate(93,0) rotate(-90)" textLength="30" lengthAdjust="spacingAndGlyphs">[deg]</text></g>
<g transform="translate(0,778.25)"><text transform="translate(36.5,0) rotate(-90)" textLength="17" lengthAdjust="spacingAndGlyphs">elb</text><text transform="translate(47.8,0) rotate(-90)" textLength="18" lengthAdjust="spacingAndGlyphs">pef</text><text transform="translate(59.1,0) rotate(-90)" textLength="13" lengthAdjust="spacingAndGlyphs">pa</text><text transform="translate(70.4,0) rotate(-90)" textLength="56" lengthAdjust="spacingAndGlyphs">spec2plot</text><text transform="translate(81.7,0) rotate(-90)" textLength="32" lengthAdjust="spacingAndGlyphs">ch3LC</text><text transform="translate(93,0) rotate(-90)" textLength="30" lengthAdjust="spacingAndGlyphs">[deg]</text></g>
<text transform="translate(50,862) rotate(-90)" textLength="24" lengthAdjust="spacingAndGlyphs">IGRF</text>
<text transform="translate(62.5,862) rotate(-90)" textLength="23" lengthAdjust="spacingAndGlyphs">[nT]</text>
</g>

<g fill="url(#cb)">
<rect x="694" y="152" width="8" height="83.5"/><rect x="694" y="235.5" width="8" height="83.5"/><rect x="694" y="319" width="8" height="83.5"/><rect x="694" y="402.5" width="8" height="83.5"/><rect x="694" y="486" width="8" height="83.5"/><rect x="694" y="569.5" width="8" height="83.5"/><rect x="694" y="653" width="8" height="83.5"/><rect x="694" y="736.5" width="8" height="83.5"/>
</g>
<g font-size="11">
<text x="707" y="160.7">10</text><text x="707" y="174.7">10</text><text x="707" y="186.7">10</text><text x="707" y="199.7">10</text><text x="707" y="212.7">10</text><text x="707" y="225.7">10</text><text x="707" y="231.7">10</text>
<text x="707" y="244.2">10</text><text x="707" y="258.2">10</text><text x="707" y="270.2">10</text><text x="707" y="283.2">10</text><text x="707" y="296.2">10</text><text x="707" y="309.2">10</text><text x="707" y="315.2">10</text>
<text x="707" y="327.7">10</text><text x="707" y="341.7">10</text><text x="707" y="353.7">10</text><text x="707" y="366.7">10</text><text x="707" y="379.7">10</text><text x="707" y="392.7">10</text><text x="707" y="398.7">10</text>
<text x="707" y="411.2">10</text><text x="707" y="425.2">10</text><text x="707" y="437.2">10</text><text x="707" y="450.2">10</text><text x="707" y="463.2">10</text><text x="707" y="476.2">10</text><text x="707" y="482.2">10</text>
<text x="707" y="496.7">10</text><text x="707" y="516.7">10</text><text x="707" y="538.7">10</text><text x="707" y="559.7">10</text>
<text x="707" y="587.7">10</text><text x="707" y="611.2">10</text><text x="707" y="633.2">10</text><text x="707" y="650.2">10</text>
<text x="707" y="656.7">10</text><text x="707" y="674.7">10</text><text x="707" y="696.7">10</text><text x="707" y="718.7">10</text><text x="707" y="731.7">10</text>
<text x="707" y="748.7" letter-spacing="0.8">10000</text><text x="707" y="773.7" letter-spacing="0.8">1000</text><text x="707" y="798.7" letter-spacing="0.8">100</text><text x="707" y="820.7" letter-spacing="0.8">10</text>
</g>
<g font-size="7.5">
<text x="719.5" y="156.2">7</text><text x="719.5" y="170.2">6</text><text x="719.5" y="182.2">5</text><text x="719.5" y="195.2">4</text><text x="719.5" y="208.2">3</text><text x="719.5" y="221.2">2</text><text x="719.5" y="227.2">1</text>
<text x="719.5" y="239.7">7</text><text x="719.5" y="253.7">6</text><text x="719.5" y="265.7">5</text><text x="719.5" y="278.7">4</text><text x="719.5" y="291.7">3</text><text x="719.5" y="304.7">2</text><text x="719.5" y="310.7">1</text>
<text x="719.5" y="323.2">7</text><text x="719.5" y="337.2">6</text><text x="719.5" y="349.2">5</text><text x="719.5" y="362.2">4</text><text x="719.5" y="375.2">3</text><text x="719.5" y="388.2">2</text><text x="719.5" y="394.2">1</text>
<text x="719.5" y="406.7">7</text><text x="719.5" y="420.7">6</text><text x="719.5" y="432.7">5</text><text x="719.5" y="445.7">4</text><text x="719.5" y="458.7">3</text><text x="719.5" y="471.7">2</text><text x="719.5" y="477.7">1</text>
<text x="719.5" y="492.2">7</text><text x="719.5" y="512.2">6</text><text x="719.5" y="534.2">5</text><text x="719.5" y="555.2">4</text>
<text x="719.5" y="583.2">6</text><text x="719.5" y="606.7">5</text><text x="719.5" y="628.7">4</text><text x="719.5" y="645.7">3</text>
<text x="719.5" y="652.2">6</text><text x="719.5" y="670.2">5</text><text x="719.5" y="692.2">4</text><text x="719.5" y="714.2">3</text><text x="719.5" y="727.2">2</text>
</g>
<g font-size="11" text-anchor="middle">
<text transform="translate(738.3,193.75) rotate(-90)" textLength="29" lengthAdjust="spacingAndGlyphs">nflux</text>
<text transform="translate(738.3,277.25) rotate(-90)" textLength="29" lengthAdjust="spacingAndGlyphs">nflux</text>
<text transform="translate(738.3,360.75) rotate(-90)" textLength="29" lengthAdjust="spacingAndGlyphs">nflux</text>
<text transform="translate(738.3,444.25) rotate(-90)" textLength="29" lengthAdjust="spacingAndGlyphs">nflux</text>
<text transform="translate(738.3,527.75) rotate(-90)" textLength="29" lengthAdjust="spacingAndGlyphs">nflux</text>
<text transform="translate(738.3,611.25) rotate(-90)" textLength="29" lengthAdjust="spacingAndGlyphs">nflux</text>
<text transform="translate(738.3,694.75) rotate(-90)" textLength="29" lengthAdjust="spacingAndGlyphs">nflux</text>
<text transform="translate(756.7,778.25) rotate(-90)" textLength="29" lengthAdjust="spacingAndGlyphs">nflux</text>
</g>

<text x="702" y="835" font-size="11">T</text>
<text x="702.5" y="844" font-size="11" style="fill:#ff0000">D</text>
<text x="705.5" y="844.5" font-size="10" style="fill:#0000ff">N</text>
<text x="702" y="866" font-size="11" style="fill:#22ee00">E</text>
<text transform="translate(694,902) rotate(-90)" font-size="6.5" textLength="90" lengthAdjust="spacingAndGlyphs" xml:space="preserve">Mon Sep  2 23:42:03 2024</text>

<g font-size="12">
<text x="8" y="921.5" textLength="87" lengthAdjust="spacingAndGlyphs" xml:space="preserve">2021 Jun 25</text>
<text x="8" y="933" textLength="80" lengthAdjust="spacingAndGlyphs">GLON (east)</text>
<text x="8" y="944.5" textLength="92" lengthAdjust="spacingAndGlyphs">MLAT-igrf(dip)</text>
<text x="8" y="956.5" textLength="89" lengthAdjust="spacingAndGlyphs">MLT-igrf(dip)</text>
<text x="8" y="968.5" textLength="70" lengthAdjust="spacingAndGlyphs">L-igrf(dip)</text>
</g>
<g font-size="12" text-anchor="middle">
<text x="128.5" y="921.5" textLength="31" lengthAdjust="spacingAndGlyphs">1500</text>
<text x="128" y="933" textLength="40" lengthAdjust="spacingAndGlyphs">167.2</text>
<text x="129" y="944.5" textLength="68" lengthAdjust="spacingAndGlyphs">42.5(41.6)</text>
<text x="127" y="956.5" textLength="54" lengthAdjust="spacingAndGlyphs">1.7(1.4)</text>
<text x="127" y="968.5" textLength="54" lengthAdjust="spacingAndGlyphs">1.9(1.9)</text>
<text x="315" y="921.5" textLength="30" lengthAdjust="spacingAndGlyphs">1530</text>
<text x="315" y="933" textLength="40" lengthAdjust="spacingAndGlyphs">343.7</text>
<text x="315" y="944.5" textLength="70" lengthAdjust="spacingAndGlyphs">21.4(22.2)</text>
<text x="314.5" y="956.5" textLength="69" lengthAdjust="spacingAndGlyphs">14.4(14.4)</text>
<text x="315.5" y="968.5" textLength="51" lengthAdjust="spacingAndGlyphs">1.1(1.2)</text>
<text x="501" y="921.5" textLength="32" lengthAdjust="spacingAndGlyphs">1600</text>
<text x="500.5" y="933" textLength="35" lengthAdjust="spacingAndGlyphs">174.7</text>
<text x="501" y="944.5" textLength="92" lengthAdjust="spacingAndGlyphs">−78.8(−80.0)</text>
<text x="501" y="956.5" textLength="52" lengthAdjust="spacingAndGlyphs">9.9(7.4)</text>
<text x="501" y="968.5" textLength="70" lengthAdjust="spacingAndGlyphs">26.9(35.3)</text>
<text x="688" y="921.5" textLength="32" lengthAdjust="spacingAndGlyphs">1630</text>
<text x="686.5" y="933" textLength="37" lengthAdjust="spacingAndGlyphs">145.8</text>
<text x="687" y="944.5" textLength="70" lengthAdjust="spacingAndGlyphs">29.9(26.7)</text>
<text x="687.5" y="956.5" textLength="51" lengthAdjust="spacingAndGlyphs">2.1(1.9)</text>
<text x="687.5" y="968.5" textLength="51" lengthAdjust="spacingAndGlyphs">1.4(1.3)</text>
</g>
<g font-size="10">
<text x="590" y="987" textLength="127" lengthAdjust="spacingAndGlyphs">nflux: #/(cm^2 s sr MeV)</text>
<text x="590" y="998" textLength="180" lengthAdjust="spacingAndGlyphs" xml:space="preserve">Created: Tue Sep  3 06:42:05 2024</text>
</g>
</svg>
</body></html>
